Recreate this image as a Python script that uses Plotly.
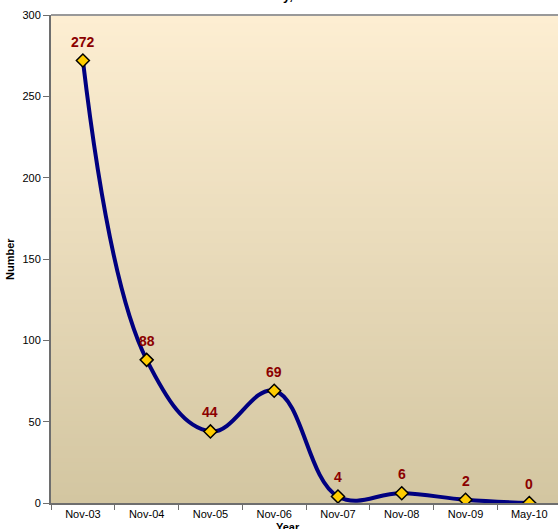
import plotly.graph_objects as go

# ---- data ----
years = ["Nov-03", "Nov-04", "Nov-05", "Nov-06", "Nov-07", "Nov-08", "Nov-09", "May-10"]
counts = [272, 88, 44, 69, 4, 6, 2, 0]
y_ticks = [0, 50, 100, 150, 200, 250, 300]

FONT = "Liberation Sans, Arial, sans-serif"

fig = go.Figure()
fig.add_trace(go.Scatter(
    x=years, y=counts,
    mode="lines+markers",
    line=dict(color="#000080", width=4, shape="spline", smoothing=1.15),
    marker=dict(symbol="diamond", size=10, color="#FFCC00",
                line=dict(color="#000000", width=1.5)),
    showlegend=False, hoverinfo="x+y",
))

# value labels above each point
annotations = []
for cat, val in zip(years, counts):
    annotations.append(dict(
        x=cat, y=val, xref="x", yref="y", text=str(val), showarrow=False,
        yanchor="bottom", yshift=9,
        font=dict(family=FONT, size=14, color="#8B0000", weight="bold"),
    ))

# partially visible title (cut off at top)
annotations.append(dict(
    x=0.481, y=1.0205, xref="paper", yref="paper", text="May, 2010",
    showarrow=False, xanchor="center", yanchor="bottom",
    font=dict(family=FONT, size=13, color="#000000", weight="bold"),
))
# axis titles
annotations.append(dict(
    x=0.468, y=-0.0328, xref="paper", yref="paper", text="Year",
    showarrow=False, xanchor="center", yanchor="top",
    font=dict(family=FONT, size=11, color="#000000", weight="bold"),
))
annotations.append(dict(
    x=-0.0809, y=0.5, xref="paper", yref="paper", text="Number",
    showarrow=False, xanchor="center", yanchor="middle", textangle=-90,
    font=dict(family=FONT, size=11, color="#000000", weight="bold"),
))

# gradient background bands
top_c = (253, 238, 210)
bot_c = (211, 198, 161)
n = 120
shapes = []
for i in range(n):
    t = i / (n - 1)
    c = tuple(int(round(bot_c[k] + (top_c[k] - bot_c[k]) * t)) for k in range(3))
    shapes.append(dict(
        type="rect", xref="paper", yref="paper",
        x0=0, x1=1, y0=i / n, y1=(i + 1) / n + 0.002,
        fillcolor="rgb(%d,%d,%d)" % c, line=dict(width=0), layer="below",
    ))
# top border line
shapes.append(dict(type="line", xref="paper", yref="paper", x0=0, x1=1, y0=1, y1=1,
                   line=dict(color="#999999", width=2)))

fig.update_layout(
    width=558, height=529,
    margin=dict(l=51, r=0, t=15, b=26, autoexpand=False),
    paper_bgcolor="#FFFFFF", plot_bgcolor="rgba(0,0,0,0)",
    font=dict(family=FONT, size=11, color="#000000"),
    annotations=annotations, shapes=shapes,
    xaxis=dict(
        type="category", categoryorder="array", categoryarray=years,
        range=[-0.5, 7.45], showgrid=False, zeroline=False, automargin=False,
        showline=True, linecolor="#6E6E6E", linewidth=2,
        ticks="outside", tickson="boundaries", ticklen=5, tickcolor="#6E6E6E",
        tickfont=dict(family=FONT, size=11, color="#000000"),
    ),
    yaxis=dict(
        range=[0, 300], tickvals=y_ticks, showgrid=False, zeroline=False, automargin=False,
        showline=True, linecolor="#6E6E6E", linewidth=2,
        ticks="outside", ticklen=6, tickcolor="#6E6E6E",
        tickfont=dict(family=FONT, size=11, color="#000000"),
    ),
)

fig.write_html(
    "out.html",
    config={"displayModeBar": False},
    post_script="document.body.style.margin='0';document.body.style.overflow='hidden';",
)
